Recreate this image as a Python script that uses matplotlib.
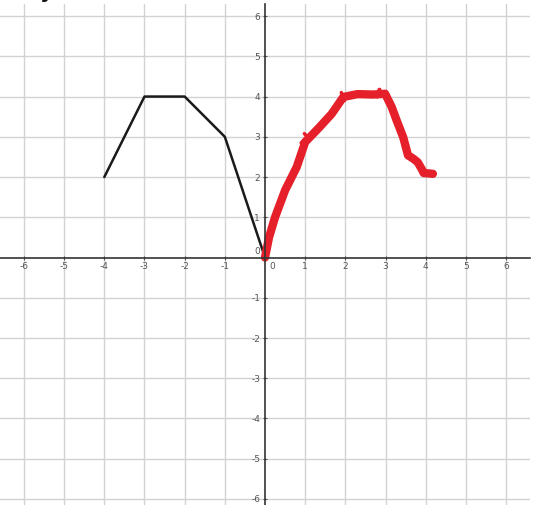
import matplotlib
matplotlib.use("Agg")
import matplotlib.pyplot as plt

plt.rcParams['axes.unicode_minus'] = False

# Black graph (piecewise linear)
black_x = [-4, -3, -2, -1, 0]
black_y = [2, 4, 4, 3, 0]

# Red hand-drawn curve
red_x = [0.0, 0.1, 0.25, 0.5, 0.79, 1.0, 1.32, 1.66, 1.95, 2.3, 2.7, 2.99, 3.15, 3.28, 3.44, 3.56, 3.7, 3.8, 3.9, 3.95, 4.18]
red_y = [0.0, 0.5, 1.0, 1.67, 2.25, 2.87, 3.2, 3.57, 3.99, 4.06, 4.05, 4.07, 3.75, 3.4, 2.99, 2.54, 2.45, 2.37, 2.2, 2.1, 2.08]

ticks = [-6, -5, -4, -3, -2, -1, 1, 2, 3, 4, 5, 6]

fig = plt.figure(figsize=(5.37, 5.05), dpi=100)
ax = fig.add_axes([0, 0, 530/537, 501/505])
ax.set_xlim(-6.597, 6.597)
ax.set_ylim(-6.15, 6.30)

ax.grid(True, color='#d2d2d2', linewidth=1.0)
ax.set_axisbelow(True)
for s in ['top', 'right']:
    ax.spines[s].set_visible(False)
ax.spines['left'].set_position(('data', 0))
ax.spines['bottom'].set_position(('data', 0))
for s in ['left', 'bottom']:
    ax.spines[s].set_color('#333333')
    ax.spines[s].set_linewidth(1.2)

ax.set_xticks(ticks)
ax.set_yticks(ticks)
ax.tick_params(axis='both', labelsize=6.5, colors='#555555', length=3, width=0.8, pad=2)
ax.tick_params(axis='x', direction='inout')
ax.tick_params(axis='y', direction='inout')

ax.text(0.12, -0.12, '0', fontsize=6.5, color='#555555', ha='left', va='top')
ax.text(-0.12, 0.05, '0', fontsize=6.5, color='#555555', ha='right', va='bottom')

ax.plot(black_x, black_y, color='#1a1a1a', linewidth=1.8, solid_capstyle='round')
ax.plot(red_x, red_y, color='#e5202a', linewidth=6, solid_capstyle='round', solid_joinstyle='round')
# little hand-drawn marks
ax.plot([0.9, 1.05, 0.98], [2.85, 3.0, 3.08], color='#e5202a', linewidth=2.5, solid_capstyle='round')
ax.plot([1.9, 1.98], [4.1, 3.9], color='#e5202a', linewidth=2.5, solid_capstyle='round')
ax.plot([2.8, 2.85], [4.0, 4.17], color='#e5202a', linewidth=3, solid_capstyle='round')

fig.text(40/537, 1 + 3.5/505, 'y (−x)', fontsize=20, ha='left', va='baseline', color='#111111')

fig.savefig('out.png', dpi=100)
